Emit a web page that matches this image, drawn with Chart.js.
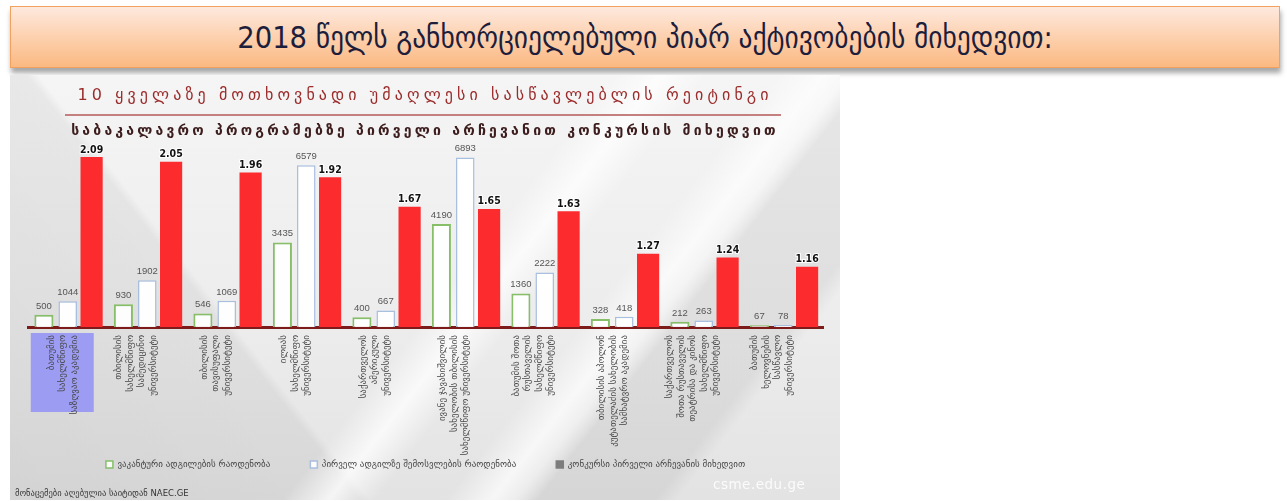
<!DOCTYPE html>
<html><head><meta charset="utf-8">
<script src="https://cdn.jsdelivr.net/npm/chart.js@4.4.1/dist/chart.umd.min.js"></script>
<style>
html,body{margin:0;padding:0;background:#fff;width:1287px;height:501px;overflow:hidden;font-family:"DejaVu Sans",sans-serif;}
#banner{position:absolute;left:10px;top:6px;width:1268px;height:60px;border:1.5px solid #f2a15e;
  background:linear-gradient(180deg,#fde9df 0%,#fdd3b3 45%,#fbb982 100%);
  box-shadow:1px 5px 5px rgba(0,0,0,0.35);display:flex;align-items:center;justify-content:center;
  font-family:"DejaVu Sans Condensed","DejaVu Sans",sans-serif;font-size:30.5px;color:#1d1d3c;}
#panel{position:absolute;left:10px;top:75px;width:830px;height:425px;overflow:hidden;
  background:
    linear-gradient(128deg, rgba(255,255,255,0) 52%, rgba(255,255,255,0.75) 56%, rgba(255,255,255,0) 60%, rgba(255,255,255,0) 66%, rgba(255,255,255,0.7) 70%, rgba(255,255,255,0) 74%),
    linear-gradient(128deg, rgba(0,0,0,0) 72%, rgba(0,0,0,0.06) 74%, rgba(0,0,0,0.06) 84%, rgba(0,0,0,0) 86%),
    linear-gradient(52deg, rgba(0,0,0,0.07) 0%, rgba(0,0,0,0.05) 30%, rgba(0,0,0,0) 31%),
    linear-gradient(180deg,#f5f5f5 0%,#ececec 60%,#e3e3e3 100%);}
#t1{position:absolute;left:0;width:830px;top:10px;text-align:center;font-size:16px;letter-spacing:4.1px;color:#9b2c2c;white-space:nowrap;}
#rule{position:absolute;left:55px;width:716px;top:39px;height:1.5px;background:#c47f7f;}
#t2{position:absolute;left:0;width:830px;top:47px;text-align:center;font-size:14px;font-weight:bold;letter-spacing:3.2px;color:#3c1c1c;white-space:nowrap;}
#foot{position:absolute;left:5px;top:413px;font-size:8.5px;color:#333;white-space:nowrap;}
#wm{position:absolute;left:703px;top:401px;font-size:13.5px;color:rgba(255,255,255,0.85);letter-spacing:0.5px;}
#c{position:absolute;left:0;top:0;}
</style></head>
<body>
<div id="banner">2018 წელს განხორციელებული პიარ აქტივობების მიხედვით:</div>
<div id="panel">
  <canvas id="c" width="830" height="425"></canvas>
  <div id="t1">10 ყველაზე მოთხოვნადი უმაღლესი სასწავლებლის რეიტინგი</div>
  <div id="rule"></div>
  <div id="t2">საბაკალავრო პროგრამებზე პირველი არჩევანით კონკურსის მიხედვით</div>
  <div id="wm">csme.edu.ge</div>
  <div id="foot">მონაცემები აღებულია საიტიდან NAEC.GE</div>
</div>
<script>
const categories = [
  ["ბათუმის","სახელმწიფო","საზღვაო აკადემია"],
  ["თბილისის","სახელმწიფო","სამედიცინო","უნივერსიტეტი"],
  ["თბილისის","თავისუფალი","უნივერსიტეტი"],
  ["ილიას","სახელმწიფო","უნივერსიტეტი"],
  ["საქართველოს","ამერიკული","უნივერსიტეტი"],
  ["ივანე ჯავახიშვილის","სახელობის თბილისის","სახელმწიფო უნივერსიტეტი"],
  ["ბათუმის შოთა","რუსთაველის","სახელმწიფო","უნივერსიტეტი"],
  ["თბილისის აპოლონ","კუტათელაძის სახელობის","სამხატვრო აკადემია"],
  ["საქართველოს","შოთა რუსთაველის","თეატრისა და კინოს","სახელმწიფო","უნივერსიტეტი"],
  ["ბათუმის","ხელოვნების","სასწავლო","უნივერსიტეტი"]
];
const vacantPlaces = [500, 930, 546, 3435, 400, 4190, 1360, 328, 212, 67];
const firstChoiceApplicants = [1044, 1902, 1069, 6579, 667, 6893, 2222, 418, 263, 78];
const competitionFirstChoice = [2.09, 2.05, 1.96, 1.92, 1.67, 1.65, 1.63, 1.27, 1.24, 1.16];
const seriesNames = ["ვაკანტური ადგილების რაოდენობა","პირველ ადგილზე შემოსვლების რაოდენობა","კონკურსი პირველი არჩევანის მიხედვით"];
const highlightIndex = 0;

const LABEL_FONT = '9px "DejaVu Sans", sans-serif';
const LABEL_LH = 11.5;
const LABEL_SHIFT = -11;

const categoryLabelPlugin = {
  id:'catLabels',
  beforeDraw(chart){
    const xs = chart.scales.x, ctx = chart.ctx;
    const hp = xs.getPixelForTick(highlightIndex);
    ctx.save();
    ctx.fillStyle = '#9c9cf3';
    ctx.fillRect(hp - 37, xs.top + 6, 63, 79);
    ctx.restore();
  },
  afterDraw(chart){
    const xs = chart.scales.x, ctx = chart.ctx;
    ctx.save();
    ctx.font = LABEL_FONT;
    ctx.fillStyle = '#454545';
    ctx.textAlign = 'right';
    ctx.textBaseline = 'middle';
    chart.data.labels.forEach((lines, i) => {
      const px = xs.getPixelForTick(i) + (i === highlightIndex ? -5 : LABEL_SHIFT);
      const n = lines.length;
      lines.forEach((line, j) => {
        ctx.save();
        ctx.translate(px - (n - 1) * LABEL_LH / 2 + j * LABEL_LH, xs.top + 8);
        ctx.rotate(-Math.PI / 2);
        ctx.fillText(line, 0, 0);
        ctx.restore();
      });
    });
    ctx.restore();
  }
};
const valuePlugin = {
  id:'values',
  afterDatasetsDraw(chart){
    const ctx = chart.ctx;
    chart.data.datasets.forEach((ds, di) => {
      const meta = chart.getDatasetMeta(di);
      meta.data.forEach((el, i) => {
        const v = ds.data[i];
        ctx.save();
        ctx.textAlign = 'center';
        ctx.textBaseline = 'bottom';
        if (di === 2) {
          ctx.font = 'bold 10.5px "DejaVu Sans Condensed", "DejaVu Sans", sans-serif';
          ctx.lineWidth = 2; ctx.strokeStyle = 'rgba(255,255,255,0.9)';
          ctx.strokeText(v.toFixed(2), el.x, el.y - 2);
          ctx.fillStyle = '#111';
          ctx.fillText(v.toFixed(2), el.x, el.y - 2);
        } else {
          ctx.font = '9.5px "Liberation Sans", sans-serif';
          ctx.fillStyle = '#555';
          ctx.fillText(String(v), el.x, el.y - 4);
        }
        ctx.restore();
      });
    });
  }
};

new Chart(document.getElementById('c'), {
  type:'bar',
  data:{
    labels: categories,
    datasets:[
      {label:seriesNames[0], data:vacantPlaces, yAxisID:'y', backgroundColor:'rgba(255,255,255,0.92)', borderColor:'#86bf68', borderWidth:2, barPercentage:0.8, categoryPercentage:0.9},
      {label:seriesNames[1], data:firstChoiceApplicants, yAxisID:'y', backgroundColor:'rgba(255,255,255,0.95)', borderColor:'#a9bfe0', borderWidth:1.5, barPercentage:0.78, categoryPercentage:0.9},
      {label:seriesNames[2], data:competitionFirstChoice, yAxisID:'y1', backgroundColor:'#fb2b2e', borderWidth:0, barPercentage:0.93, categoryPercentage:0.9}
    ]
  },
  options:{
    responsive:false, animation:false,
    layout:{padding:{top:75,left:18,right:17,bottom:21}},
    scales:{
      x:{
        grid:{display:false},
        border:{display:true,color:'#7d1b1b',width:3},
        ticks:{display:false},
        afterFit(s){ s.height = 93; }
      },
      y:{display:false,min:0,max:7200},
      y1:{display:false,min:0.65,max:2.15}
    },
    plugins:{
      legend:{position:'bottom',
        labels:{boxWidth:7,boxHeight:7,padding:40,color:'#444',font:{family:'"DejaVu Sans", sans-serif',size:9},
          generateLabels(chart){
            const fills=['rgba(255,255,255,0.9)','rgba(255,255,255,0.9)','#7d7d7d'];
            const strokes=['#86bf68','#a9bfe0','#7d7d7d'];
            return chart.data.datasets.map((d,i)=>({text:d.label,fillStyle:fills[i],strokeStyle:strokes[i],lineWidth:1.5,datasetIndex:i,fontColor:'#444'}));
          }}},
      tooltip:{enabled:false}
    }
  },
  plugins:[categoryLabelPlugin,valuePlugin]
});
</script>
</body></html>
